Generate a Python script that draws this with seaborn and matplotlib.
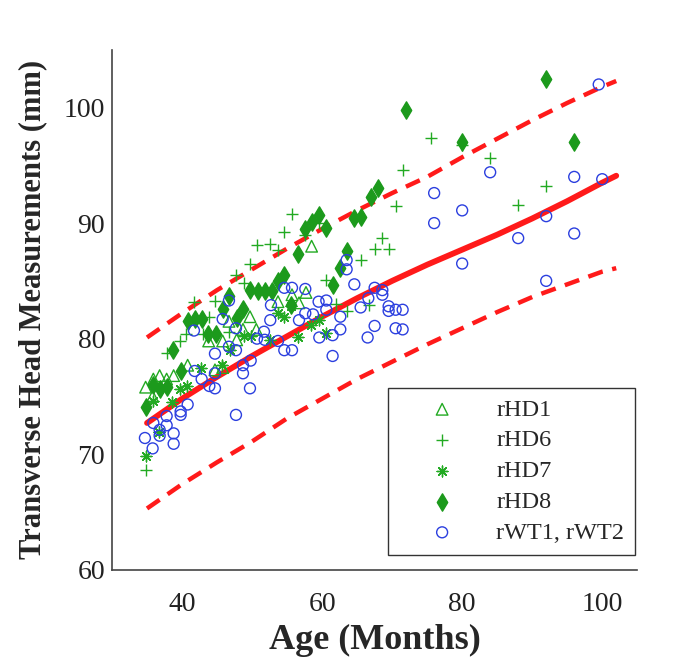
import matplotlib
matplotlib.use('Agg')
import matplotlib.pyplot as plt
import seaborn as sns

# values (age in months, head width in mm)
hd1_age = [34.8, 35.8, 35.9, 36.8, 37.8, 38.8, 40.8, 43.8, 44.7, 45.8, 45.8, 46.7,
           47.8, 48.7, 49.7, 50.6, 53.7, 55.7, 56.7, 57.7, 58.5]
hd1_mm = [75.8, 75.0, 76.5, 76.8, 76.5, 76.8, 77.7, 79.8, 77.3, 77.5, 79.8, 81.5,
          79.9, 80.8, 81.9, 80.8, 83.2, 83.8, 83.1, 84.0, 88.0]

hd6_age = [34.8, 37.8, 39.7, 40.6, 41.7, 43.0, 43.8, 44.7, 46.7, 47.7, 48.9, 49.7,
           50.7, 52.6, 53.7, 54.6, 55.7, 57.6, 59.5, 60.6, 62.0, 63.5, 65.5, 66.7,
           67.5, 68.5, 69.5, 70.5, 71.5, 75.5, 80.0, 84.0, 88.0, 92.0]
hd6_mm = [68.6, 78.8, 79.8, 80.4, 83.2, 80.4, 81.9, 83.3, 80.6, 85.5, 84.8, 86.5,
          88.1, 88.2, 87.7, 89.2, 90.8, 89.0, 90.0, 85.1, 83.0, 82.4, 86.8, 82.9,
          87.8, 88.7, 87.8, 91.5, 94.6, 97.4, 96.8, 95.6, 91.6, 93.2]

hd7_age = [34.8, 35.8, 36.7, 38.6, 39.7, 40.7, 42.7, 45.7, 46.8, 48.9, 49.9, 52.6,
           53.7, 54.6, 55.6, 56.5, 58.4, 59.6, 60.6]
hd7_mm = [69.8, 74.6, 71.9, 74.5, 75.6, 75.9, 77.5, 77.7, 79.0, 80.2, 80.2, 79.9,
          82.2, 81.9, 82.8, 80.1, 81.2, 81.6, 80.5]

hd8_age = [34.8, 35.8, 36.8, 37.8, 38.7, 39.8, 40.8, 41.8, 42.8, 43.7, 44.8, 45.8,
           46.7, 47.8, 48.7, 49.7, 50.8, 51.8, 52.8, 53.7, 54.6, 55.6, 56.6, 57.6,
           58.6, 59.6, 60.6, 61.6, 62.5, 63.5, 64.5, 65.5, 67.0, 68.0, 72.0, 80.0,
           92.0, 96.0]
hd8_mm = [74.1, 76.0, 75.6, 75.8, 79.0, 77.2, 81.5, 81.7, 81.7, 80.4, 80.4, 82.6,
          83.7, 81.8, 82.6, 84.2, 84.1, 84.1, 84.1, 85.0, 85.5, 82.9, 87.3, 89.5,
          90.1, 90.7, 89.6, 84.6, 86.1, 87.6, 90.4, 90.5, 92.3, 93.0, 99.8, 97.0,
          102.5, 97.0]

wt_age = [34.7, 35.8, 35.9, 36.8, 36.8, 37.8, 37.8, 38.8, 38.8, 39.8, 39.8, 40.8,
          41.7, 41.8, 42.8, 43.9, 44.7, 44.7, 44.7, 45.8, 46.7, 46.7, 47.7, 47.7,
          47.7, 48.7, 48.7, 49.7, 49.8, 50.7, 51.7, 51.8, 52.6, 52.7, 53.7, 54.6,
          54.6, 55.7, 55.7, 56.7, 57.6, 57.6, 58.7, 59.5, 59.6, 60.6, 60.6, 61.5,
          61.5, 62.6, 62.6, 63.5, 63.5, 64.6, 65.5, 66.5, 66.6, 67.5, 67.5, 68.6,
          68.6, 69.5, 69.5, 70.5, 70.5, 71.5, 71.5, 76.0, 76.0, 80.0, 80.0, 84.0,
          88.0, 92.0, 92.0, 96.0, 96.0, 99.5, 100.0]
wt_mm = [71.4, 70.5, 72.7, 72.1, 71.6, 73.3, 72.5, 71.8, 70.9, 73.7, 73.4, 74.3,
         80.7, 77.2, 76.5, 75.9, 75.7, 78.7, 77.0, 81.7, 83.3, 79.3, 80.9, 79.0,
         73.4, 77.0, 77.7, 75.7, 78.1, 80.0, 80.6, 79.9, 81.6, 82.9, 79.8, 84.4,
         79.0, 84.4, 79.0, 81.6, 84.3, 82.2, 82.1, 83.2, 80.1, 83.3, 82.5, 80.3,
         78.5, 81.9, 80.8, 86.8, 86.0, 84.7, 82.7, 80.1, 83.5, 84.4, 81.1, 84.2,
         83.8, 82.8, 82.4, 82.5, 80.9, 82.5, 80.8, 92.6, 90.0, 91.1, 86.5, 94.4,
         88.7, 90.6, 85.0, 94.0, 89.1, 102.0, 93.8]

# fitted curve and its band, read at fixed ages
fit_age = [35, 40, 45, 50, 55, 60, 65, 70, 75, 80, 85, 90, 95, 100, 102]
fit_mid = [72.7, 74.8, 76.7, 78.5, 80.2, 81.9, 83.5, 85.0, 86.4, 87.7, 89.0, 90.4,
           91.9, 93.5, 94.1]
fit_upper = [80.1, 82.2, 84.2, 86.0, 87.8, 89.5, 91.1, 92.6, 94.0, 95.7, 97.3, 98.9,
             100.4, 101.8, 102.3]
fit_lower = [65.3, 67.4, 69.3, 71.1, 73.1, 74.8, 76.5, 78.0, 79.5, 80.9, 82.3, 83.6,
             84.7, 85.8, 86.1]

GREEN = '#22aa22'
DGREEN = '#1c9a1c'
BLUE = '#2b3fdf'
RED = '#ff1a1a'

sns.set_style('white')
plt.rcParams['font.family'] = ['Liberation Serif', 'DejaVu Serif']
plt.rcParams['lines.scale_dashes'] = False

fig = plt.figure(figsize=(6.83, 6.64), dpi=100)
ax = fig.add_axes([0.164, 0.142, 0.769, 0.783])

# red fit lines
sns.lineplot(x=fit_age, y=fit_upper, color=RED, linewidth=3.2,
             linestyle=(0, (11, 7)), ax=ax, legend=False, zorder=1)
sns.lineplot(x=fit_age, y=fit_lower, color=RED, linewidth=3.2,
             linestyle=(0, (11, 7)), ax=ax, legend=False, zorder=1)
sns.lineplot(x=fit_age, y=fit_mid, color=RED, linewidth=4.2, ax=ax,
             legend=False, zorder=1)

# groups
groups = [
    (hd1_age, hd1_mm, 'rHD1', '^', 70, GREEN, True),
    (hd6_age, hd6_mm, 'rHD6', '+', 75, GREEN, False),
    (hd7_age, hd7_mm, 'rHD7', (8, 2, 0), 60, GREEN, False),
    (hd8_age, hd8_mm, 'rHD8', 'd', 78, DGREEN, False),
    (wt_age, wt_mm, 'rWT1, rWT2', 'o', 62, BLUE, True),
]
for ages, vals, name, mk, size, col, hollow in groups:
    n_before = len(ax.collections)
    sns.scatterplot(x=ages, y=vals, marker=mk, s=size, color=col, label=name,
                    linewidth=1.0, ax=ax, zorder=2)
    coll = ax.collections[n_before]
    if hollow:
        coll.set_facecolor('none')
        coll.set_edgecolor(col)
    elif mk == 'd':
        coll.set_edgecolor(col)
        coll.set_facecolor(col)
    else:
        coll.set_edgecolor(col)

ax.set_xlim(30, 105)
ax.set_ylim(60, 105)
ax.set_xticks([40, 60, 80, 100])
ax.set_yticks([60, 70, 80, 90, 100])

for side in ['top', 'right']:
    ax.spines[side].set_visible(False)
for side in ['left', 'bottom']:
    ax.spines[side].set_color('#444444')
    ax.spines[side].set_linewidth(1.2)
ax.tick_params(direction='in', length=5, width=1, colors='#444444',
               labelcolor='#222222', labelsize=20)
ax.tick_params(axis='x', pad=16)
ax.tick_params(axis='y', pad=5)

ax.set_xlabel('Age (Months)', fontsize=26, fontweight='bold', labelpad=5)
ax.set_ylabel('Transverse Head Measurements (mm)', fontsize=22,
              fontweight='bold', labelpad=12)

leg = ax.legend(loc='lower right', bbox_to_anchor=(0.996, 0.029), borderaxespad=0,
                fontsize=17.5, frameon=True, fancybox=False, framealpha=1,
                edgecolor='#333333', labelspacing=0.36, handletextpad=0.45,
                borderpad=0.45, handlelength=3.55, markerscale=1.0)
leg.get_frame().set_linewidth(1.0)

plt.savefig('out.png', dpi=100)
